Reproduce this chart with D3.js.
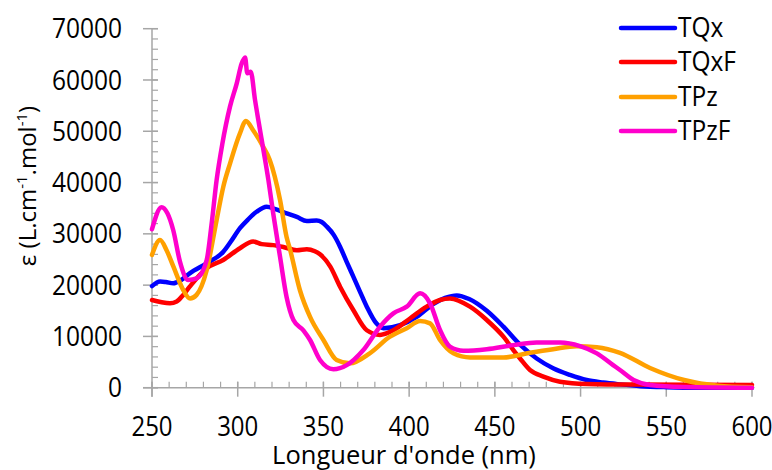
<!DOCTYPE html>
<html><head><meta charset="utf-8">
<script src="https://cdn.jsdelivr.net/npm/d3@7"></script>
<style>body{margin:0;background:#fff}svg{display:block}text{font-family:"Open Sans",sans-serif;fill:#000}</style>
</head><body><svg id="c" width="772" height="470"></svg>
<script>
const seriesNames = ["TQx","TQxF","TPz","TPzF"];
const seriesColors = ["#0000ff","#ff0000","#ffa000","#ff00cc"];
const xTicks = [250,300,350,400,450,500,550,600];
const yTicks = [0,10000,20000,30000,40000,50000,60000,70000];

const tqx = [[250,19800],[254.7,20700],[258,20600],[262.4,20350],[267,21000],[272,22300],[281.9,24250],[291.6,26500],[296,28500],[301.3,31100],[306,32800],[311,34300],[316.9,35300],[322,34800],[328.6,34000],[334.5,33300],[340.3,32500],[346,32600],[349,32300],[352,31400],[356,29800],[359.7,27500],[363.5,24600],[367.5,21600],[371.5,18600],[375.3,15800],[381,12500],[385,11600],[394.7,12200],[404.4,13800],[414,16300],[421,17500],[427.8,18000],[435,17300],[445.3,15000],[455,11900],[464.7,8400],[474.4,5700],[484,3800],[493.8,2500],[503.5,1500],[513.2,1000],[523,650],[535,300],[550,100],[570,0],[600,0]];
const tqxf = [[250,17100],[255,16700],[260.5,16450],[264.4,16800],[268,18000],[272,19700],[281.9,23300],[291.5,24900],[301.3,27200],[309,28500],[314,28000],[320.7,27800],[327,27400],[334.5,26800],[340.3,27000],[345,26600],[348,26000],[354,23600],[359.7,19700],[367.5,15100],[375.3,11200],[383,10300],[390.8,11200],[400.5,13500],[410.2,15800],[418,17100],[423.8,17400],[435.5,15800],[445.3,13200],[455,9950],[460.8,7350],[464.7,5700],[470.5,3450],[478.3,2150],[488,1170],[503.5,720],[530,600],[600,550]];
const tpz = [[250,25900],[254.7,28800],[258.5,26800],[262.5,23600],[268.3,19000],[272.2,17400],[276,18100],[281.9,22900],[287.7,32700],[291.6,39200],[295.5,43700],[301.3,49600],[304.8,52000],[309,50200],[314.8,47000],[318.7,44400],[324.7,36600],[328.5,29400],[330.5,27000],[336.3,19000],[342.2,13800],[350,9300],[357.7,5400],[365.5,4750],[377,6700],[388.8,9950],[398.6,11600],[406.4,13000],[412.2,12550],[418,9300],[425.8,6700],[435.5,5900],[455,5900],[470.5,6800],[484,7500],[497.7,8100],[509.5,7900],[523,6800],[540.5,3850],[560.4,1500],[580,400],[600,100]];
const tpzf = [[250,30900],[255.6,35200],[259,34000],[262.4,30700],[266.3,24600],[271.2,21000],[276,21300],[281.9,24900],[284.8,32000],[287.7,40500],[291,47500],[295.5,54800],[299.4,59300],[302.3,63200],[304.3,64400],[305.6,61300],[307.6,61600],[310.1,56100],[314,48300],[317.9,40500],[320.7,34000],[324.7,25500],[328.5,17700],[332.5,13200],[338.3,11200],[342.2,9300],[348,5400],[355.8,3600],[363.6,4400],[373.3,7350],[383,11900],[390.8,14500],[398.6,15800],[406.4,18400],[412.2,16450],[418,11250],[423.8,8000],[431.6,7200],[445.3,7500],[460.8,8300],[474.4,8800],[488,8800],[499.7,8100],[509.5,6700],[519,4400],[523,3450],[530.9,1500],[540.5,530],[560,150],[600,0]];
const allData = [tqx, tqxf, tpz, tpzf];

const svg = d3.select("#c");
const x = d3.scaleLinear().domain([250,600]).range([152,752]);
const y = d3.scaleLinear().domain([0,70000]).range([387.7,28.7]);
const axisColor = "#a6a6a6";

const g = svg.append("g");
g.append("line").attr("x1",x(250)).attr("x2",x(250)).attr("y1",y(70000)).attr("y2",y(0)+9)
  .attr("stroke",axisColor).attr("stroke-width",1.5);
g.append("line").attr("x1",x(250)-9).attr("x2",x(600)).attr("y1",y(0)).attr("y2",y(0))
  .attr("stroke",axisColor).attr("stroke-width",1.5);
d3.range(0,70001,2000).forEach(v=>{
  g.append("line").attr("x1",x(250)).attr("x2",x(250)+6).attr("y1",y(v)).attr("y2",y(v)).attr("stroke",axisColor).attr("stroke-width",1.2);
});
yTicks.forEach(v=>{
  g.append("line").attr("x1",x(250)-9).attr("x2",x(250)+6).attr("y1",y(v)).attr("y2",y(v)).attr("stroke",axisColor).attr("stroke-width",1.5);
  g.append("text").attr("transform",`translate(122,${y(v)+9.6}) scale(1,1.1)`).attr("text-anchor","end").attr("font-size",24.5).text(v);
});
d3.range(250,601,10).forEach(v=>{
  g.append("line").attr("x1",x(v)).attr("x2",x(v)).attr("y1",y(0)).attr("y2",y(0)-6).attr("stroke",axisColor).attr("stroke-width",1.2);
});
xTicks.forEach(v=>{
  g.append("line").attr("x1",x(v)).attr("x2",x(v)).attr("y1",y(0)-6).attr("y2",y(0)+9).attr("stroke",axisColor).attr("stroke-width",1.5);
  g.append("text").attr("transform",`translate(${x(v)},435.7) scale(1,1.16)`).attr("text-anchor","middle").attr("font-size",24).text(v);
});
g.append("text").attr("x",404).attr("y",463.5).attr("text-anchor","middle").attr("font-size",25.5).text("Longueur d'onde (nm)");
const yl = g.append("text").attr("transform","translate(36,186) rotate(-90)").attr("text-anchor","middle").attr("font-size",24);
yl.append("tspan").text("ε (L.cm");
yl.append("tspan").attr("dy",-9).attr("font-size",15).text("-1");
yl.append("tspan").attr("dy",9).text(".mol");
yl.append("tspan").attr("dy",-9).attr("font-size",15).text("-1");
yl.append("tspan").attr("dy",9).text(")");

const line = d3.line().x(d=>x(d[0])).y(d=>y(d[1])).curve(d3.curveMonotoneX);
allData.forEach((d,i)=>{
  svg.append("path").datum(d).attr("d",line).attr("fill","none").attr("stroke",seriesColors[i])
    .attr("stroke-width",4.5).attr("stroke-linejoin","round").attr("stroke-linecap","round");
});
const legY = [28,62,97,131];
seriesNames.forEach((n,i)=>{
  svg.append("line").attr("x1",621).attr("x2",675).attr("y1",legY[i]).attr("y2",legY[i])
    .attr("stroke",seriesColors[i]).attr("stroke-width",4.5).attr("stroke-linecap","round");
  svg.append("text").attr("transform",`translate(678,${legY[i]+9.3}) scale(1,1.08)`).attr("font-size",24.5).text(n);
});
</script></body></html>
